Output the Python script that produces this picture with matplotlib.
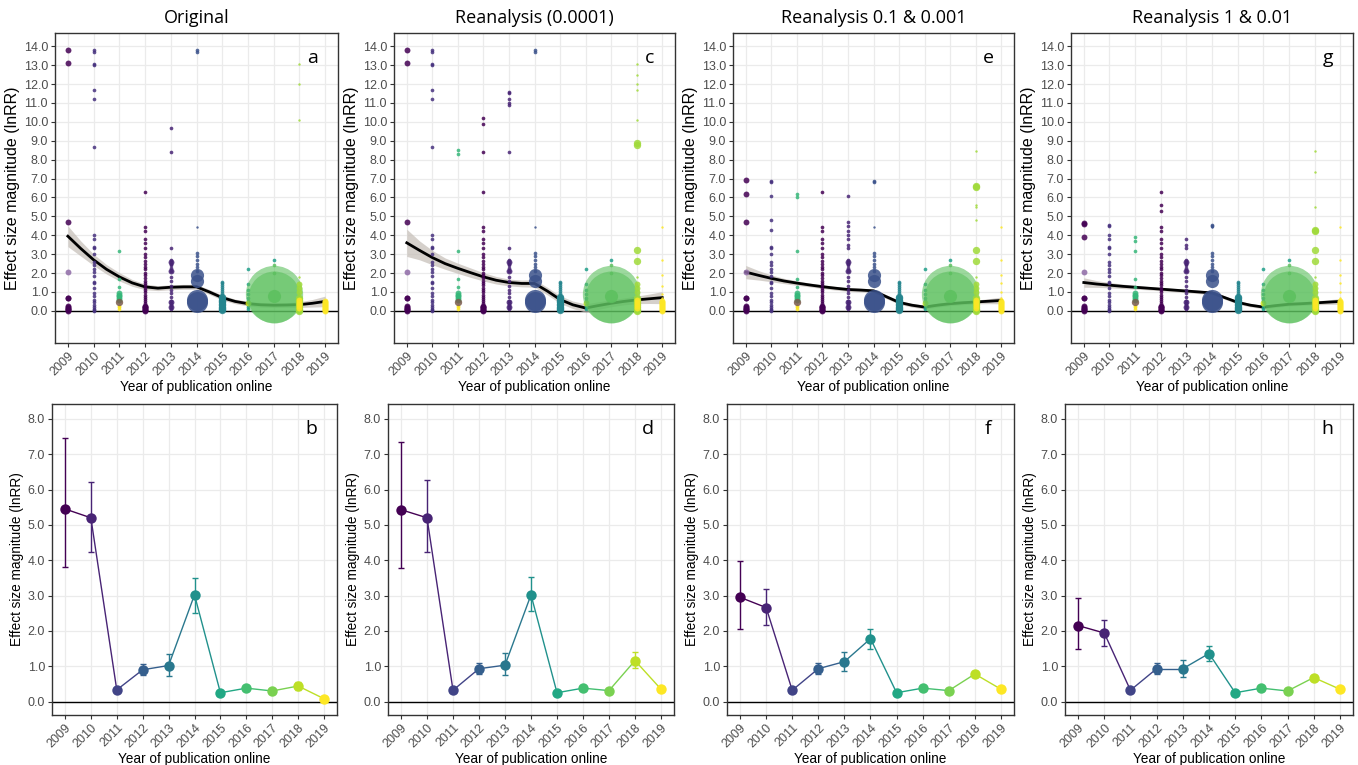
import matplotlib
matplotlib.use('Agg')

import matplotlib.pyplot as plt
import numpy as np

plt.rcParams['font.family'] = ['Liberation Sans', 'DejaVu Sans']

W, H = 1358, 765

years = list(range(2009, 2020))
year_colors = ['#440154', '#482475', '#414487', '#355f8d', '#2a788e', '#21918c',
               '#22a884', '#44bf70', '#7ad151', '#bddf26', '#fde725']

titles = ['Original', 'Reanalysis (0.0001)', 'Reanalysis 0.1 & 0.001', 'Reanalysis 1 & 0.01']
top_letters = ['a', 'c', 'e', 'g']
bottom_letters = ['b', 'd', 'f', 'h']

# colours used for the raw effect sizes (one per study group)
P0 = '#440154'
P1 = '#482475'
P2 = '#46317e'
B = '#3b528b'
T = '#25858e'
TG = '#1f9e89'
G11 = '#35b779'
GR = '#5cc05e'
YG = '#a0da39'
Y = '#fde725'
BR = '#7b5b4c'

size_map = {'xs': 3, 's': 7, 'm': 18, 'ml': 28, 'l': 90, 'xl': 230, 'xxl': 1700, 'xxl2': 1400}

# (year, effect sizes, point size, colour) - same in all four top panels
common_pts = [
    (2009, [0.0, 0.04, 0.08, 0.12, 0.16, 0.2, 0.25], 'm', P0),
    (2009, [0.66, 0.7], 'm', P0),
    (2009, [2.08], 'm', '#8e6aa6'),
    (2010, [0.0, 0.05, 0.1, 0.2, 0.3, 0.45, 0.6, 0.8, 0.95, 1.2, 1.45, 1.55, 1.85,
            2.05, 2.2, 2.45, 2.6, 3.0, 3.3, 3.4], 's', P2),
    (2011, [0.1, 0.18, 0.26], 's', Y),
    (2011, [0.6, 0.7, 0.78, 0.85, 0.92], 'm', G11),
    (2011, [1.25, 1.7, 3.15], 's', G11),
    (2011, [0.47], 'ml', BR),
    (2012, [0.0, 0.03, 0.06, 0.1, 0.14, 0.18, 0.22, 0.28], 'm', P0),
    (2012, [0.4, 0.5, 0.62, 0.75, 0.85, 1.0, 1.1, 1.2, 1.35, 1.5, 1.6, 1.75, 1.9, 2.0,
            2.2, 2.3, 2.5, 2.65, 2.85, 3.0, 3.3, 3.6, 3.8, 4.2, 4.45], 's', P0),
    (2013, [0.1, 0.2, 0.3, 0.4, 0.5, 0.75, 0.95, 1.1, 1.3, 1.6, 1.8, 2.1, 2.25, 2.4,
            2.5, 2.6, 2.7, 3.3], 's', P1),
    (2013, [0.2, 0.45, 2.1, 2.6], 'm', P1),
    (2014, [0.45, 0.6], 'xl', B),
    (2014, [1.6, 1.9], 'l', B),
    (2014, [2.1, 2.3, 2.5, 2.7, 2.9, 3.05], 's', B),
    (2014, [4.45], 'xs', B),
    (2015, [0.02, 0.08, 0.15, 0.22, 0.3, 0.38, 0.45, 0.52, 0.6, 0.68, 0.75], 'ml', T),
    (2015, [0.85, 0.95, 1.05, 1.15, 1.25, 1.35, 1.45, 1.55], 's', T),
    (2016, [0.1, 0.2, 0.3, 0.5, 0.7, 0.9, 1.1, 1.4, 2.2], 's', TG),
    (2016, [0.4], 'm', '#d2e21b'),
    (2017, [0.9], 'xxl', GR),
    (2017, [0.75], 'xxl2', GR),
    (2017, [0.8], 'l', GR),
    (2017, [2.0, 2.4], 's', GR),
    (2017, [2.7], 's', TG),
    (2018, [0.0, 0.05, 0.12, 0.2, 0.3, 0.4, 0.5, 0.6, 0.7], 'ml', YG),
    (2018, [0.15, 0.25, 0.35, 0.45, 0.6], 'm', Y),
    (2018, [1.0, 1.2, 1.4], 'm', YG),
    (2018, [1.8], 'xs', YG),
    (2019, [0.0, 0.05, 0.1, 0.15, 0.2, 0.25, 0.3, 0.35, 0.4, 0.45, 0.5], 'm', Y),
]

high_a = [
    (2009, [4.7, 13.1, 13.8], 'm', P0),
    (2010, [3.8, 4.0, 8.65, 11.2, 11.7, 13.0, 13.05, 13.7, 13.8], 's', P2),
    (2012, [6.3], 's', P0),
    (2013, [8.4, 9.7], 's', P1),
    (2014, [13.7, 13.8], 's', B),
    (2018, [10.1, 12.0, 13.05], 'xs', YG),
]
high_c = [
    (2009, [4.7, 13.1, 13.8], 'm', P0),
    (2010, [3.8, 4.0, 8.65, 11.2, 11.7, 13.0, 13.05, 13.7, 13.8], 's', P2),
    (2011, [8.3, 8.5], 's', G11),
    (2012, [6.3, 8.4, 9.9, 10.2], 's', P0),
    (2013, [8.4, 10.9, 11.0, 11.2, 11.5, 11.6], 's', P1),
    (2014, [13.7, 13.8], 's', B),
    (2018, [8.8, 8.9], 'ml', YG),
    (2018, [2.65, 3.2], 'ml', YG),
    (2018, [10.1, 11.7, 12.0, 12.5, 13.05], 'xs', YG),
    (2019, [0.7, 0.9, 1.3, 1.9, 2.7, 4.45], 'xs', Y),
]
high_e = [
    (2009, [4.7, 6.2, 6.9], 'm', P0),
    (2010, [4.3, 4.8, 6.1, 6.8, 6.85], 's', P2),
    (2011, [6.0, 6.2], 's', G11),
    (2012, [6.3], 's', P0),
    (2013, [3.5, 3.8, 4.0, 4.2, 4.5, 4.7, 6.1], 's', P1),
    (2014, [6.8, 6.85], 's', B),
    (2018, [6.55, 6.6], 'ml', YG),
    (2018, [2.65, 3.2], 'ml', YG),
    (2018, [4.8, 5.5, 5.6, 8.45], 'xs', YG),
    (2019, [0.7, 1.0, 1.5, 1.9, 2.7, 4.45], 'xs', Y),
]
high_g = [
    (2009, [3.9, 4.6, 4.65], 'm', P0),
    (2010, [3.8, 4.0, 4.5, 4.55], 's', P2),
    (2011, [3.7, 3.9], 's', G11),
    (2012, [5.3, 5.6, 6.3], 's', P0),
    (2013, [3.5, 3.8], 's', P1),
    (2014, [4.5, 4.55], 's', B),
    (2018, [4.2, 4.3], 'ml', YG),
    (2018, [2.65, 3.2], 'ml', YG),
    (2018, [5.5, 7.35, 8.45], 'xs', YG),
    (2019, [0.7, 1.0, 1.5, 1.9, 2.7, 4.45], 'xs', Y),
]
high_pts = [high_a, high_c, high_e, high_g]

# loess fit (every half year) and half-width of its band
smooth_x = [2009, 2009.5, 2010, 2010.5, 2011, 2011.5, 2012, 2012.5, 2013, 2013.5, 2014,
            2014.5, 2015, 2015.5, 2016, 2016.5, 2017, 2017.5, 2018, 2018.5, 2019]
smooth_a = [3.95, 3.3, 2.7, 2.2, 1.8, 1.48, 1.27, 1.2, 1.25, 1.27, 1.27,
            1.0, 0.7, 0.5, 0.38, 0.32, 0.3, 0.31, 0.33, 0.4, 0.5]
band_a = [0.55, 0.4, 0.3, 0.25, 0.22, 0.18, 0.15, 0.13, 0.13, 0.13, 0.13,
          0.13, 0.13, 0.12, 0.12, 0.12, 0.12, 0.12, 0.15, 0.2, 0.28]
smooth_c = [3.6, 3.2, 2.82, 2.5, 2.25, 2.02, 1.8, 1.62, 1.5, 1.45, 1.45,
            1.05, 0.6, 0.32, 0.15, 0.28, 0.4, 0.5, 0.58, 0.64, 0.7]
band_c = [0.72, 0.5, 0.38, 0.3, 0.27, 0.25, 0.22, 0.2, 0.18, 0.18, 0.2,
          0.2, 0.2, 0.2, 0.22, 0.2, 0.18, 0.18, 0.2, 0.25, 0.32]
smooth_e = [2.05, 1.88, 1.72, 1.58, 1.47, 1.37, 1.28, 1.2, 1.13, 1.1, 1.06,
            0.75, 0.45, 0.3, 0.2, 0.3, 0.38, 0.43, 0.47, 0.51, 0.55]
band_e = [0.35, 0.25, 0.18, 0.14, 0.12, 0.1, 0.1, 0.1, 0.1, 0.1, 0.1,
          0.1, 0.1, 0.1, 0.1, 0.1, 0.1, 0.1, 0.1, 0.13, 0.18]
smooth_g = [1.5, 1.42, 1.36, 1.3, 1.25, 1.2, 1.15, 1.1, 1.05, 1.0, 0.95,
            0.7, 0.45, 0.3, 0.2, 0.28, 0.35, 0.38, 0.42, 0.46, 0.5]
band_g = [0.25, 0.18, 0.14, 0.12, 0.1, 0.09, 0.09, 0.09, 0.09, 0.09, 0.09,
          0.09, 0.09, 0.09, 0.09, 0.09, 0.09, 0.09, 0.1, 0.12, 0.15]
smooths = [(smooth_a, band_a), (smooth_c, band_c), (smooth_e, band_e), (smooth_g, band_g)]

# yearly means with 95% CI
mean_b = [5.45, 5.2, 0.33, 0.9, 1.02, 3.02, 0.25, 0.38, 0.3, 0.44, 0.08]
lo_b = [3.8, 4.22, 0.3, 0.75, 0.72, 2.52, 0.22, 0.35, 0.27, 0.33, 0.06]
hi_b = [7.45, 6.22, 0.36, 1.05, 1.35, 3.5, 0.28, 0.41, 0.33, 0.56, 0.1]
mean_d = [5.43, 5.2, 0.32, 0.93, 1.03, 3.02, 0.25, 0.38, 0.31, 1.16, 0.35]
lo_d = [3.77, 4.23, 0.29, 0.77, 0.75, 2.55, 0.22, 0.35, 0.28, 0.95, 0.32]
hi_d = [7.35, 6.27, 0.35, 1.1, 1.38, 3.53, 0.28, 0.41, 0.34, 1.4, 0.38]
mean_f = [2.95, 2.66, 0.32, 0.93, 1.13, 1.78, 0.25, 0.38, 0.31, 0.78, 0.35]
lo_f = [2.05, 2.18, 0.29, 0.77, 0.87, 1.5, 0.22, 0.35, 0.28, 0.7, 0.32]
hi_f = [3.98, 3.18, 0.35, 1.1, 1.4, 2.05, 0.28, 0.41, 0.34, 0.86, 0.38]
mean_h = [2.15, 1.94, 0.32, 0.93, 0.93, 1.36, 0.25, 0.38, 0.3, 0.68, 0.35]
lo_h = [1.48, 1.58, 0.29, 0.77, 0.7, 1.15, 0.22, 0.35, 0.27, 0.6, 0.32]
hi_h = [2.93, 2.3, 0.35, 1.1, 1.17, 1.58, 0.28, 0.41, 0.33, 0.76, 0.38]
means = [(mean_b, lo_b, hi_b), (mean_d, lo_d, hi_d), (mean_f, lo_f, hi_f), (mean_h, lo_h, hi_h)]

# axes boxes in pixels: left, top, right, bottom
top_boxes = [(55, 33, 338, 343), (394, 33, 675, 343), (733, 33, 1014, 343), (1071, 33, 1353, 343)]
bottom_boxes = [(52, 404, 337, 715), (388, 404, 674, 715), (727, 404, 1014, 715), (1065, 404, 1353, 715)]


def add_axes(fig, box):
    l, t, r, b = box
    return fig.add_axes([l / W, 1 - b / H, (r - l) / W, (b - t) / H])


def style_axes(ax, ymax_tick, ylim, letter, ylab_size):
    ax.set_xlim(2008.5, 2019.5)
    ax.set_ylim(*ylim)
    ax.set_xticks(years)
    ax.set_xticklabels([str(y) for y in years], rotation=45, ha='right',
                       rotation_mode='anchor', fontsize=9, color='#4d4d4d')
    yt = np.arange(0, ymax_tick + 0.5, 1.0)
    ax.set_yticks(yt)
    ax.set_yticklabels(['%.1f' % v for v in yt], fontsize=9, color='#4d4d4d')
    ax.grid(True, color='#ebebeb', linewidth=0.9)
    ax.set_axisbelow(True)
    for s in ax.spines.values():
        s.set_color('#333333')
        s.set_linewidth(1.0)
    ax.tick_params(length=3, width=0.8, color='#333333', pad=2)
    ax.axhline(0, color='black', linewidth=1.0, zorder=1.5)
    ax.set_xlabel('Year of publication online', fontsize=9.8, labelpad=1)
    ax.set_ylabel('Effect size magnitude (lnRR)', fontsize=ylab_size, labelpad=3)
    ax.text(0.91, 0.92, letter, transform=ax.transAxes, fontsize=14,
            family=['Open Sans', 'DejaVu Sans'], ha='center', va='center')


fig = plt.figure(figsize=(W / 100, H / 100), dpi=100)

for i in range(4):
    ax = add_axes(fig, top_boxes[i])
    sm, bd = smooths[i]
    sm = np.array(sm)
    bd = np.array(bd)
    ax.fill_between(smooth_x, sm - bd, sm + bd, color='#c4bdb6', alpha=0.7,
                    linewidth=0, zorder=2)
    ax.plot(smooth_x, sm, color='black', linewidth=2.0, zorder=2.5)
    for year, vals, sz, col in common_pts + high_pts[i]:
        a = 0.6 if sz.startswith('xxl') else 0.85
        ax.scatter([year] * len(vals), vals, s=size_map[sz], color=col,
                   alpha=a, linewidths=0, zorder=3)
    style_axes(ax, 14, (-1.7, 14.7), top_letters[i], 11.5)
    l, t, r, b = top_boxes[i]
    fig.text((l + r) / 2 / W, 1 - 18 / H, titles[i], ha='center', va='center',
             fontsize=13, family=['Open Sans', 'DejaVu Sans'])

for i in range(4):
    ax = add_axes(fig, bottom_boxes[i])
    m, lo, hi = means[i]
    for j in range(len(years) - 1):
        ax.plot(years[j:j + 2], m[j:j + 2], color=year_colors[j], linewidth=1.0, zorder=3)
    for j, y in enumerate(years):
        ax.errorbar([y], [m[j]], yerr=[[m[j] - lo[j]], [hi[j] - m[j]]], fmt='none',
                    ecolor=year_colors[j], elinewidth=1.0, capsize=2.5, capthick=1.0, zorder=3)
        ax.plot([y], [m[j]], 'o', color=year_colors[j], markersize=7.5,
                markeredgewidth=0, zorder=4)
    style_axes(ax, 8, (-0.38, 8.42), bottom_letters[i], 9.8)

fig.savefig('out.png', dpi=100)
